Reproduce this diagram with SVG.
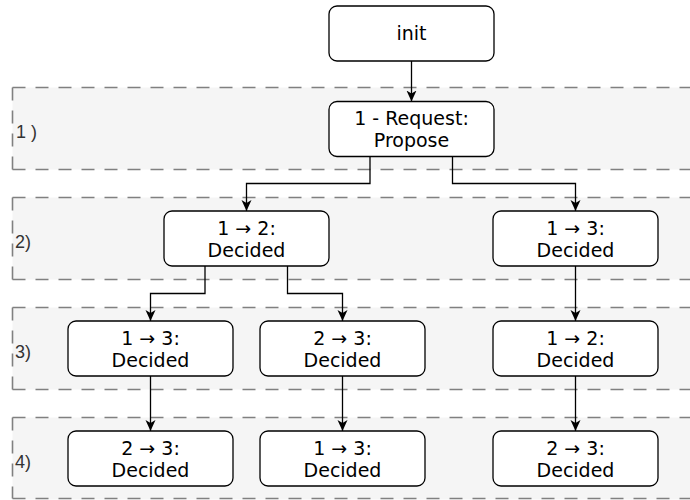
<svg xmlns="http://www.w3.org/2000/svg" width="690" height="500" viewBox="0 0 690 500">
<style>
.band{fill:#f5f5f5;stroke:none}
.bl{fill:none;stroke:#808080;stroke-width:1.6;stroke-dasharray:13 10}
.box{fill:#ffffff;stroke:#000000;stroke-width:1.3}
.t{font-family:"DejaVu Sans",Verdana,sans-serif;font-size:19px;text-anchor:middle;fill:#000}
.lab{font-family:"Liberation Sans",Arial,sans-serif;font-size:18px;fill:#333}
.c{fill:none;stroke:#000;stroke-width:1.3;marker-end:url(#ah)}
</style>
<defs>
<marker id="ah" markerUnits="userSpaceOnUse" markerWidth="14" markerHeight="12" refX="11" refY="5" orient="auto">
<path d="M0,0 L11,5 L0,10 L3,5 z" fill="#000"/>
</marker>
</defs>
<g id="bands">
<g id="band1"><rect class="band" x="12.5" y="87.5" width="690" height="82"/><path class="bl" d="M12.5,87.5 H690 M12.5,169.5 H690 M12.5,87.5 V169.5"/><text class="lab" x="16" y="138">1 )</text></g>
<g id="band2"><rect class="band" x="12.5" y="197.5" width="690" height="82"/><path class="bl" d="M12.5,197.5 H690 M12.5,279.5 H690 M12.5,197.5 V279.5"/><text class="lab" x="15" y="248">2)</text></g>
<g id="band3"><rect class="band" x="12.5" y="307.5" width="690" height="82"/><path class="bl" d="M12.5,307.5 H690 M12.5,389.5 H690 M12.5,307.5 V389.5"/><text class="lab" x="15" y="358">3)</text></g>
<g id="band4"><rect class="band" x="12.5" y="417.5" width="690" height="82"/><path class="bl" d="M12.5,417.5 H690 M12.5,498.5 H690 M12.5,417.5 V498.5"/><text class="lab" x="15" y="468">4)</text></g>
</g>
<g id="connectors">
<path class="c" d="M411.5,61 V101.5"/>
<path class="c" d="M370,156.5 V183.5 H246.5 V211"/>
<path class="c" d="M452.5,156.5 V183.5 H575.5 V211"/>
<path class="c" d="M205,266 V293.5 H150.5 V321"/>
<path class="c" d="M287.5,266 V293.5 H342.5 V321"/>
<path class="c" d="M575.5,266 V321"/>
<path class="c" d="M150.5,376 V431"/>
<path class="c" d="M342.5,376 V431"/>
<path class="c" d="M575.5,376 V431"/>
</g>
<g id="init"><rect class="box" x="329" y="6" width="165" height="55" rx="8"/><text class="t" x="411.5" y="40">init</text></g>
<g id="request"><rect class="box" x="329" y="101.5" width="165" height="55" rx="8"/><text class="t" x="411.5" y="125">1 - Request:</text><text class="t" x="411.5" y="147">Propose</text></g>
<g id="n2a"><rect class="box" x="164" y="211" width="165" height="55" rx="8"/><text class="t" x="246.5" y="234.5">1 → 2:</text><text class="t" x="246.5" y="256.5">Decided</text></g>
<g id="n2b"><rect class="box" x="493" y="211" width="165" height="55" rx="8"/><text class="t" x="575.5" y="234.5">1 → 3:</text><text class="t" x="575.5" y="256.5">Decided</text></g>
<g id="n3a"><rect class="box" x="68" y="321" width="165" height="55" rx="8"/><text class="t" x="150.5" y="344.5">1 → 3:</text><text class="t" x="150.5" y="366.5">Decided</text></g>
<g id="n3b"><rect class="box" x="260" y="321" width="165" height="55" rx="8"/><text class="t" x="342.5" y="344.5">2 → 3:</text><text class="t" x="342.5" y="366.5">Decided</text></g>
<g id="n3c"><rect class="box" x="493" y="321" width="165" height="55" rx="8"/><text class="t" x="575.5" y="344.5">1 → 2:</text><text class="t" x="575.5" y="366.5">Decided</text></g>
<g id="n4a"><rect class="box" x="68" y="431" width="165" height="55" rx="8"/><text class="t" x="150.5" y="454.5">2 → 3:</text><text class="t" x="150.5" y="476.5">Decided</text></g>
<g id="n4b"><rect class="box" x="260" y="431" width="165" height="55" rx="8"/><text class="t" x="342.5" y="454.5">1 → 3:</text><text class="t" x="342.5" y="476.5">Decided</text></g>
<g id="n4c"><rect class="box" x="493" y="431" width="165" height="55" rx="8"/><text class="t" x="575.5" y="454.5">2 → 3:</text><text class="t" x="575.5" y="476.5">Decided</text></g>
</svg>
